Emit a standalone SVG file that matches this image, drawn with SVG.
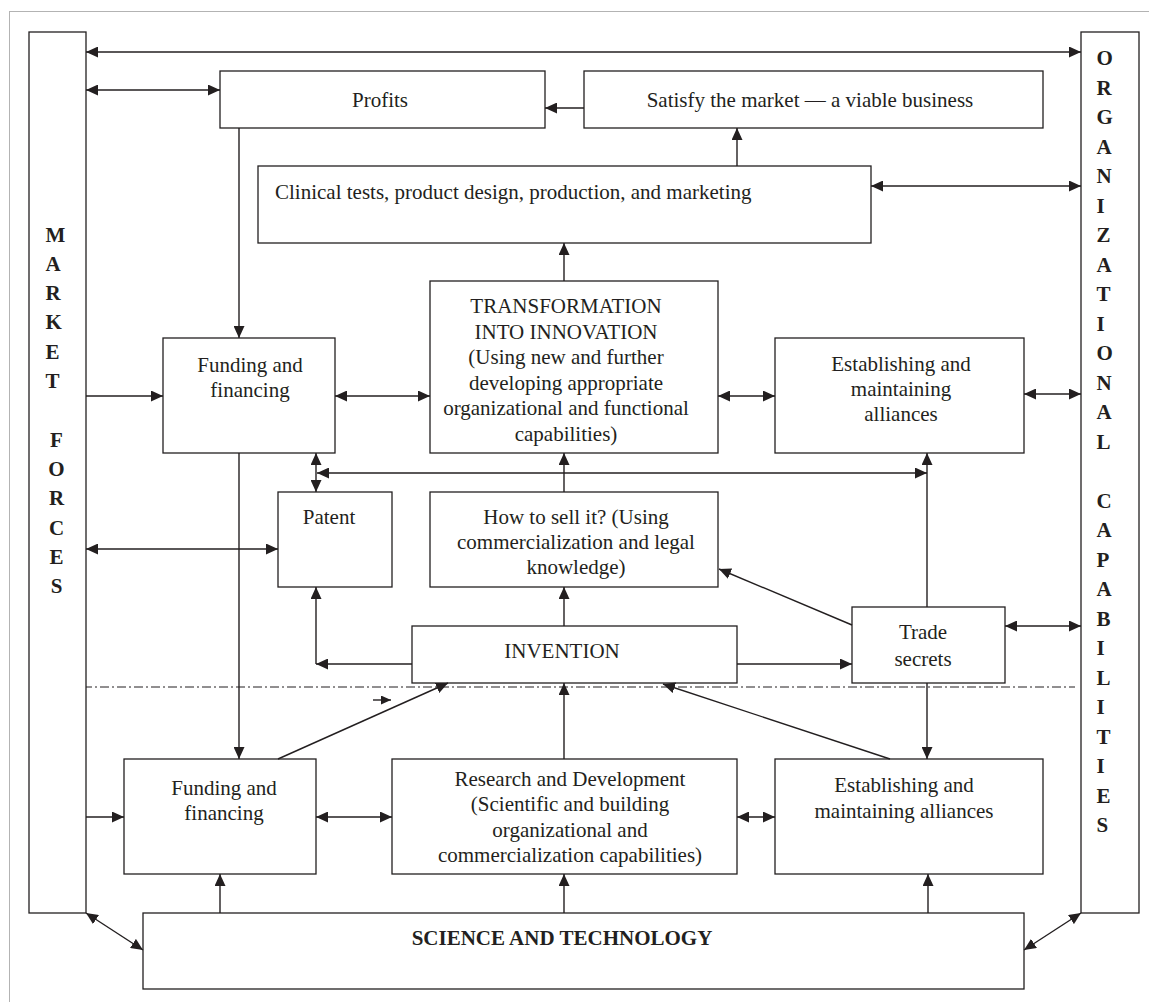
<svg xmlns="http://www.w3.org/2000/svg" width="1149" height="1002" viewBox="0 0 1149 1002">
<style>
.box{fill:#fff;stroke:#231f20;stroke-width:1.3}
.t{font-family:"Liberation Serif","Times New Roman",serif;font-size:21px;fill:#231f20;text-anchor:middle}
.l{text-anchor:start}
.b{font-weight:bold}
.c{stroke:#231f20;stroke-width:1.4;fill:none}
.e{marker-end:url(#a)}
.d{marker-start:url(#a);marker-end:url(#a)}
</style>
<defs>
<marker id="a" viewBox="0 0 12 11" refX="12" refY="5.5" markerWidth="12" markerHeight="11" markerUnits="userSpaceOnUse" orient="auto-start-reverse"><path d="M0,0 L12,5.5 L0,11 z" fill="#231f20"/></marker>
<marker id="s" viewBox="0 0 10 9" refX="10" refY="4.5" markerWidth="10" markerHeight="9" markerUnits="userSpaceOnUse" orient="auto"><path d="M0,0 L10,4.5 L0,9 z" fill="#231f20"/></marker>
</defs>
<rect x="9.5" y="11.5" width="1160" height="1010" fill="none" stroke="#666" stroke-width="1" stroke-dasharray="1 1"/>
<line x1="83" y1="687" x2="1075" y2="687" stroke="#231f20" stroke-width="1" stroke-dasharray="9 3 2 3"/>

<g id="market-forces">
<rect class="box" x="29" y="32" width="57" height="881"/>
<g class="t b l">
<text x="45.5" y="241.5">M</text><text x="45.5" y="270.8">A</text><text x="45.5" y="300.1">R</text><text x="45.5" y="329.4">K</text><text x="45.5" y="358.7">E</text><text x="45.5" y="388">T</text>
</g>
<g class="t b">
<text x="56.5" y="446.6">F</text><text x="56.5" y="475.9">O</text><text x="56.5" y="505.2">R</text><text x="56.5" y="534.5">C</text><text x="56.5" y="563.8">E</text><text x="56.5" y="593.1">S</text>
</g>
</g>

<g id="organizational-capabilities">
<rect class="box" x="1081" y="32" width="58" height="881"/>
<g class="t b l">
<text x="1096.5" y="65">O</text><text x="1096.5" y="94.5">R</text><text x="1096.5" y="124">G</text><text x="1096.5" y="153.5">A</text><text x="1096.5" y="183">N</text><text x="1096.5" y="212.5">I</text><text x="1096.5" y="242">Z</text><text x="1096.5" y="271.5">A</text><text x="1096.5" y="301">T</text><text x="1096.5" y="330.5">I</text><text x="1096.5" y="360">O</text><text x="1096.5" y="389.5">N</text><text x="1096.5" y="419">A</text><text x="1096.5" y="448.5">L</text>
<text x="1096.5" y="507.5">C</text><text x="1096.5" y="537">A</text><text x="1096.5" y="566.5">P</text><text x="1096.5" y="596">A</text><text x="1096.5" y="625.5">B</text><text x="1096.5" y="655">I</text><text x="1096.5" y="684.5">L</text><text x="1096.5" y="714">I</text><text x="1096.5" y="743.5">T</text><text x="1096.5" y="773">I</text><text x="1096.5" y="802.5">E</text><text x="1096.5" y="832">S</text>
</g>
</g>

<g id="profits"><rect class="box" x="220" y="71" width="325" height="57"/><text class="t" x="380" y="107">Profits</text></g>
<g id="satisfy"><rect class="box" x="584" y="71" width="459" height="57"/><text class="t" x="810" y="107">Satisfy the market — a viable business</text></g>
<g id="clinical"><rect class="box" x="258" y="166" width="613" height="77"/><text class="t l" x="275" y="199">Clinical tests, product design, production, and marketing</text></g>
<g id="funding-top"><rect class="box" x="163" y="338" width="172" height="115"/><text class="t" x="250" y="372">Funding and</text><text class="t" x="250" y="397">financing</text></g>
<g id="transformation"><rect class="box" x="430" y="281" width="288" height="172"/>
<text class="t" x="566" y="313">TRANSFORMATION</text><text class="t" x="566" y="338.5">INTO INNOVATION</text><text class="t" x="566" y="364">(Using new and further</text><text class="t" x="566" y="389.5">developing appropriate</text><text class="t" x="566" y="415">organizational and functional</text><text class="t" x="566" y="440.5">capabilities)</text></g>
<g id="alliances-top"><rect class="box" x="775" y="338" width="249" height="115"/><text class="t" x="901" y="371">Establishing and</text><text class="t" x="901" y="396">maintaining</text><text class="t" x="901" y="421">alliances</text></g>
<g id="patent"><rect class="box" x="278" y="492" width="114" height="95"/><text class="t" x="329" y="524">Patent</text></g>
<g id="how-to-sell"><rect class="box" x="430" y="492" width="288" height="95"/><text class="t" x="576" y="524">How to sell it? (Using</text><text class="t" x="576" y="549">commercialization and legal</text><text class="t" x="576" y="574">knowledge)</text></g>
<g id="invention"><rect class="box" x="412" y="626" width="325" height="57"/><text class="t" x="562" y="658">INVENTION</text></g>
<g id="trade-secrets"><rect class="box" x="852" y="607" width="153" height="76"/><text class="t" x="923" y="639">Trade</text><text class="t" x="923" y="666">secrets</text></g>
<g id="funding-bottom"><rect class="box" x="124" y="759" width="192" height="115"/><text class="t" x="224" y="795">Funding and</text><text class="t" x="224" y="820">financing</text></g>
<g id="rnd"><rect class="box" x="392" y="759" width="345" height="115"/><text class="t" x="570" y="786">Research and Development</text><text class="t" x="570" y="811">(Scientific and building</text><text class="t" x="570" y="836.5">organizational and</text><text class="t" x="570" y="862">commercialization capabilities)</text></g>
<g id="alliances-bottom"><rect class="box" x="775" y="759" width="268" height="115"/><text class="t" x="904" y="792">Establishing and</text><text class="t" x="904" y="818">maintaining alliances</text></g>
<g id="science"><rect class="box" x="143" y="913" width="881" height="76"/><text class="t b" x="562" y="945">SCIENCE AND TECHNOLOGY</text></g>

<g id="connectors" class="c">
<line class="d" x1="86" y1="52" x2="1081" y2="52"/>
<line class="d" x1="86" y1="90" x2="220" y2="90"/>
<line class="e" x1="584" y1="108" x2="545" y2="108"/>
<line class="e" x1="737" y1="166" x2="737" y2="128"/>
<line class="d" x1="871" y1="186" x2="1081" y2="186"/>
<line class="e" x1="239" y1="128" x2="239" y2="338"/>
<line class="e" x1="564" y1="281" x2="564" y2="243"/>
<line class="e" x1="86" y1="396" x2="163" y2="396"/>
<line class="d" x1="335" y1="396" x2="430" y2="396"/>
<line class="d" x1="718" y1="396" x2="775" y2="396"/>
<line class="d" x1="1024" y1="394" x2="1081" y2="394"/>
<line class="d" x1="316" y1="453" x2="316" y2="492"/>
<line class="d" x1="317" y1="473" x2="927" y2="473"/>
<line class="e" x1="927" y1="607" x2="927" y2="453"/>
<line class="e" x1="564" y1="492" x2="564" y2="453"/>
<line class="d" x1="86" y1="549" x2="278" y2="549"/>
<line class="e" x1="564" y1="626" x2="564" y2="587"/>
<line class="e" x1="412" y1="664" x2="316" y2="664"/>
<line class="e" x1="316" y1="664" x2="316" y2="587"/>
<line class="e" x1="737" y1="664" x2="852" y2="664"/>
<line class="d" x1="1005" y1="626" x2="1081" y2="626"/>
<line class="e" x1="852" y1="625" x2="719" y2="569"/>
<line class="e" x1="927" y1="683" x2="927" y2="759"/>
<line class="e" x1="239" y1="453" x2="239" y2="759"/>
<line class="e" x1="278" y1="759" x2="448" y2="683"/>
<line class="e" x1="564" y1="759" x2="564" y2="683"/>
<line class="e" x1="890" y1="759" x2="663" y2="684"/>
<line class="e" x1="86" y1="817" x2="124" y2="817"/>
<line class="d" x1="316" y1="817" x2="392" y2="817"/>
<line class="d" x1="737" y1="817" x2="775" y2="817"/>
<line class="e" x1="220" y1="913" x2="220" y2="874"/>
<line class="e" x1="564" y1="913" x2="564" y2="874"/>
<line class="e" x1="928" y1="913" x2="928" y2="874"/>
<line class="d" x1="86" y1="913" x2="143" y2="950"/>
<line class="d" x1="1081" y1="913" x2="1024" y2="950"/>
<line x1="373" y1="700" x2="391" y2="700" marker-end="url(#s)"/>
</g>
</svg>
